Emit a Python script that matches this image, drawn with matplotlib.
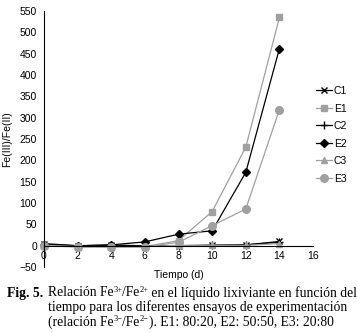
import matplotlib
matplotlib.use("Agg")
import matplotlib.pyplot as plt

plt.rcParams['font.family'] = ['Liberation Sans', 'DejaVu Sans']

days = [0, 2, 4, 6, 8, 10, 12, 14]
c1 = [5, 0, 1, 0, 0, 1, 2, 10]
e1 = [0, -2, -2, -2, 12, 80, 231, 535]
c2 = [2, 0, 1, 0, 0, 1, 2, 8]
e2 = [2, 0, 2, 9, 27, 35, 172, 462]
c3 = [1, -2, -2, -2, 1, 1, 1, 5]
e3 = [0, -3, -3, -3, 8, 47, 86, 319]

gray = "#a0a0a0"
series = [
    ("C1", c1, "black", "x", 5),
    ("E1", e1, gray, "s", 5),
    ("C2", c2, "black", "+", 6),
    ("E2", e2, "black", "D", 4),
    ("C3", c3, gray, "^", 5),
    ("E3", e3, gray, "o", 5.5),
]

W, H = 357, 333
fig = plt.figure(figsize=(W / 100, H / 100), dpi=100)
ax = fig.add_axes([0.123, 0.198, 0.754, 0.769])
for name, vals, col, mk, ms in series:
    ax.plot(days, vals, color=col, marker=mk, ms=ms, lw=0.9, label=name,
            markeredgecolor=col, markerfacecolor=col, clip_on=False)

ax.set_xlim(0, 16)
ax.set_ylim(-50, 550)
ax.set_xticks(range(0, 17, 2))
ax.set_yticks(range(-50, 551, 50))
ax.spines["top"].set_visible(False)
ax.spines["right"].set_visible(False)
ax.spines["bottom"].set_position(("data", 0))
ax.tick_params(labelsize=7.5, length=0)
ax.tick_params(axis="x", pad=4)
ax.tick_params(axis="y", pad=5)
ax.set_xlabel("Tiempo (d)", fontsize=7.5)
ax.xaxis.set_label_coords(0.5, -0.012)
ax.set_ylabel("Fe(III)/Fe(II)", fontsize=7.5, labelpad=5)

fig.legend(loc="center left", bbox_to_anchor=(0.885, 0.595), frameon=False,
           fontsize=7.5, handlelength=1.5, handletextpad=0.2, labelspacing=0.72,
           borderpad=0, borderaxespad=0)

# caption, drawn piece by piece so the superscripts stay compact
serif = ['Liberation Serif', 'DejaVu Serif']
cap_fs = 9.8
renderer = fig.canvas.get_renderer()

def caption_line(x, base, parts, bold=False):
    for txt, sup in parts:
        fs = cap_fs * 0.62 if sup else cap_fs
        yy = base - (4.5 if sup else 0)
        t = fig.text(x / W, 1 - yy / H, txt, family=serif, fontsize=fs,
                     va="baseline", fontweight="bold" if bold else "normal")
        x = t.get_window_extent(renderer).x1

caption_line(7, 296.5, [("Fig. 5.", False)], bold=True)
caption_line(48, 296.5, [("Relación Fe", False), ("3+", True), ("/Fe", False),
                         ("2+", True),
                         (" en el líquido lixiviante en función del", False)])
caption_line(48, 311, [("tiempo para los diferentes ensayos de experimentación", False)])
caption_line(48, 325.5, [("(relación Fe", False), ("3−", True), ("/Fe", False),
                         ("2−", True), ("). E1: 80:20, E2: 50:50, E3: 20:80", False)])

fig.savefig("out.png", dpi=100)
